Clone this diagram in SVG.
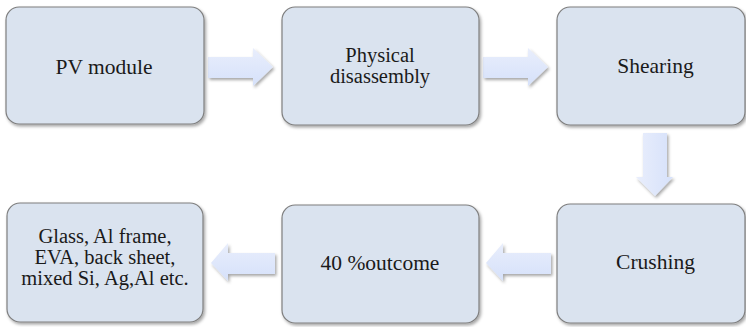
<svg xmlns="http://www.w3.org/2000/svg" width="746" height="327" viewBox="0 0 746 327">
  <defs>
    <filter id="sh" x="-10%" y="-10%" width="125%" height="130%">
      <feDropShadow dx="1.5" dy="2" stdDeviation="1.5" flood-color="#000" flood-opacity="0.35"/>
    </filter>
    <linearGradient id="ah" x1="0" y1="0" x2="0" y2="1">
      <stop offset="0" stop-color="#e9eefc"/>
      <stop offset="1" stop-color="#d6e1fa"/>
    </linearGradient>
    <linearGradient id="av" x1="0" y1="0" x2="1" y2="0">
      <stop offset="0" stop-color="#e9eefc"/>
      <stop offset="1" stop-color="#d6e1fa"/>
    </linearGradient>
    <style>
      .box { fill: #dae3ef; stroke: #7f7f7f; stroke-width: 1.2; filter: url(#sh); }
      .arr { filter: url(#sh); }
      .ml { font-size: 20.5px; }
    </style>
  </defs>

  <g id="connectors">
    <path class="arr" fill="url(#ah)" d="M208,57 H253 V48 L273,67 L253,86 V78 H208 Z"/>
    <path class="arr" fill="url(#ah)" d="M483,57 H528 V48 L548,67 L528,86 V78 H483 Z"/>
    <path class="arr" fill="url(#av)" d="M643,133 H667 V177 H673 L655,196 L636,177 H643 Z"/>
    <path class="arr" fill="url(#ah)" d="M551,253 H503 V243 L486,263 L503,281 V274 H551 Z"/>
    <path class="arr" fill="url(#ah)" d="M275,253 H228 V243 L211,263 L228,281 V274 H275 Z"/>
  </g>

  <g font-family="'Liberation Serif', 'Times New Roman', serif" font-size="21.5" fill="#1a1a1a" text-anchor="middle">
  <g id="pv-module">
    <rect class="box" x="6" y="7" width="198" height="117" rx="13"/>
    <text x="104" y="74">PV module</text>
  </g>
  <g id="physical-disassembly">
    <rect class="box" x="282" y="7" width="197" height="118" rx="13"/>
    <text class="ml" x="380" y="61.5">Physical</text>
    <text class="ml" x="380" y="82.5">disassembly</text>
  </g>
  <g id="shearing">
    <rect class="box" x="557" y="7" width="188" height="118" rx="13"/>
    <text x="655.5" y="73">Shearing</text>
  </g>
  <g id="crushing">
    <rect class="box" x="557" y="204" width="188" height="119" rx="13"/>
    <text x="655.5" y="269">Crushing</text>
  </g>
  <g id="outcome">
    <rect class="box" x="282" y="205" width="197" height="118" rx="13"/>
    <text x="380" y="270">40 %outcome</text>
  </g>
  <g id="materials">
    <rect class="box" x="7" y="203" width="196" height="119" rx="13"/>
    <text class="ml" x="105" y="242.5">Glass, Al frame,</text>
    <text class="ml" x="105" y="263.5">EVA, back sheet,</text>
    <text class="ml" x="105" y="284.5">mixed Si, Ag,Al etc.</text>
  </g>
  </g>
</svg>
